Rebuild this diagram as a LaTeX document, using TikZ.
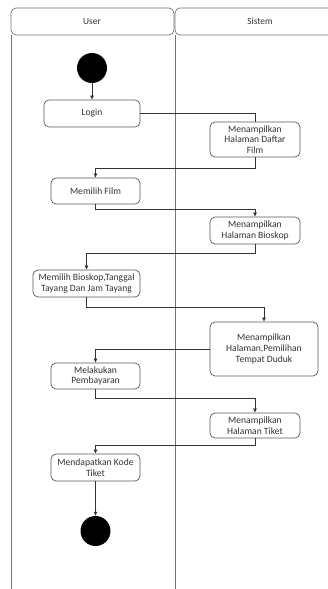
\documentclass[tikz,border=0pt]{standalone}
\usepackage{fontspec}
\setmainfont{Carlito}
\usetikzlibrary{arrows.meta}
\begin{document}
\begin{tikzpicture}[x=1pt,y=-1pt,
  act/.style={draw=black!65, line width=0.7pt, rounded corners=5pt, fill=white, align=center,
     font=\fontsize{9.6}{10.7}\selectfont, text=black!80, inner sep=1pt},
  dot/.style={circle, fill=black, minimum size=30pt, inner sep=0pt},
  lane/.style={draw=black!55, line width=0.7pt},
  flow/.style={draw=black!80, line width=0.6pt},
  arr/.style={flow, -{Latex[length=4pt,width=4pt]}},
  head/.style={font=\fontsize{9.4}{10}\selectfont, text=black!80}]
\useasboundingbox (0,0) rectangle (328,589);
% swimlanes
\draw[lane, rounded corners=5pt] (11,35) -- (11,8) -- (174,8) -- (174,35) -- cycle;
\draw[lane, rounded corners=5pt] (340,35) -- (175,35) -- (175,8) -- (340,8);
\draw[lane] (11,35) -- (11,589);
\draw[lane] (175,35) -- (175,589);
\node[head] (huser) at (92,21.5) {User};
\node[head] (hsys) at (260,21.5) {Sistem};
% nodes
\node[dot] (start) at (92,68) {};
\node[act, minimum width=96pt, minimum height=27pt] (login) at (92,113.5) {Login};
\node[act, minimum width=90pt, minimum height=35pt] (daftar) at (255,139.5) {Menampilkan\\Halaman Daftar\\Film};
\node[act, minimum width=89pt, minimum height=26pt] (memfilm) at (95.5,191) {Memilih Film};
\node[act, minimum width=90pt, minimum height=27pt] (bioskop) at (255,230.5) {Menampilkan\\Halaman Bioskop};
\node[act, minimum width=107pt, minimum height=27pt] (pilih) at (86.5,283.5) {Memilih Bioskop,Tanggal\\Tayang Dan Jam Tayang};
\node[act, minimum width=108pt, minimum height=54pt] (kursi) at (264,349) {Menampilkan\\Halaman,Pemilihan\\Tempat Duduk};
\node[act, minimum width=89pt, minimum height=26pt] (bayar) at (95.5,376) {Melakukan\\Pembayaran};
\node[act, minimum width=90pt, minimum height=25pt] (tiket) at (255,425.5) {Menampilkan\\Halaman Tiket};
\node[act, minimum width=89pt, minimum height=27pt] (kode) at (95.5,467.5) {Mendapatkan Kode\\Tiket};
\node[dot] (end) at (95.5,531) {};
% flows
\draw[arr] (start) -- (login);
\draw[flow] (login.east) -| (daftar.north);
\draw[arr] (daftar.south) -- ++(0,11) -| (memfilm.north);
\draw[arr] (memfilm.south) -- ++(0,5) -| (bioskop.north);
\draw[arr] (bioskop.south) -- ++(0,9) -| (pilih.north);
\draw[arr] (pilih.south) -- ++(0,10) -| (kursi.north);
\draw[arr] (kursi.west) -| (bayar.north);
\draw[arr] (bayar.south) -- ++(0,9) -| (tiket.north);
\draw[arr] (tiket.south) -- ++(0,7) -| (kode.north);
\draw[arr] (kode) -- (end);
\end{tikzpicture}
\end{document}
